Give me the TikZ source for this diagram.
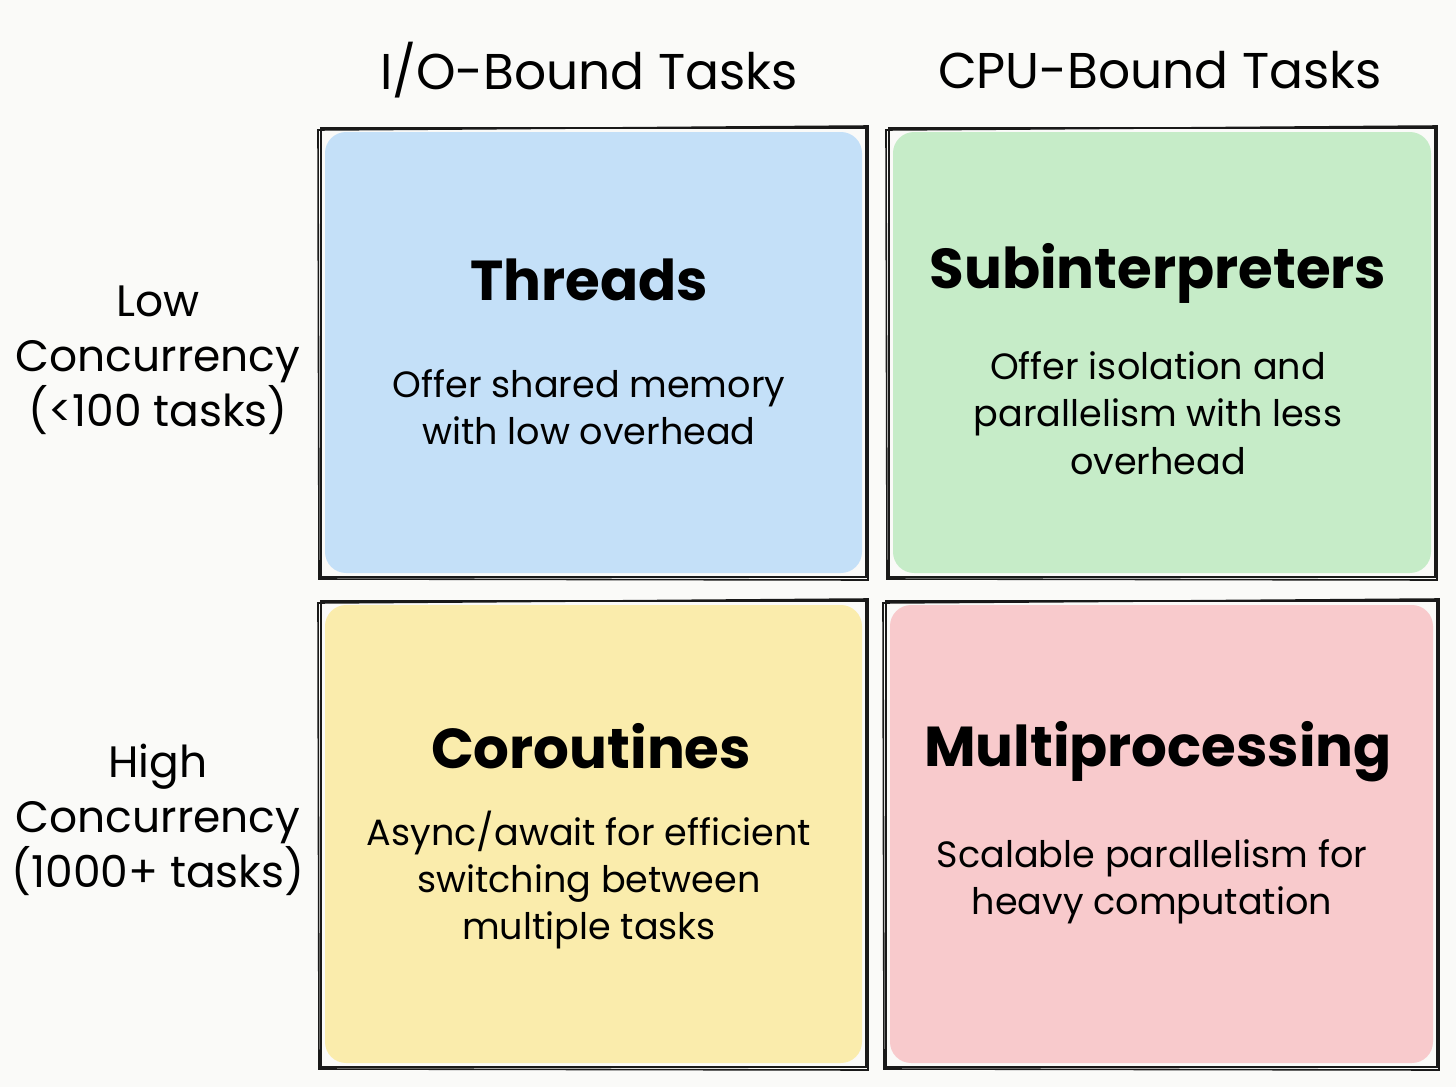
\documentclass[tikz,border=0pt]{standalone}
\usepackage{fontspec}
\setmainfont{Poppins}
\usetikzlibrary{positioning}

\definecolor{paper}{RGB}{250,250,248}
\definecolor{threadblue}{RGB}{196,224,248}
\definecolor{subgreen}{RGB}{198,236,200}
\definecolor{coroyellow}{RGB}{250,236,172}
\definecolor{multipink}{RGB}{248,202,204}

\tikzset{
  header/.style={font=\fontsize{14.3}{17}\selectfont},
  rowlabel/.style={align=center, font=\fontsize{12.5}{15.6}\selectfont},
  title/.style={font=\fontsize{16}{19}\selectfont\bfseries},
  desc/.style={align=center, font=\fontsize{10.4}{13.5}\selectfont},
  sketch/.style={line width=0.75pt, black!90},
}

\begin{document}
\begin{tikzpicture}[x=0.01cm, y=-0.01cm]
% page
\fill[paper] (0,0) rectangle (1456,1087);
\useasboundingbox (0,0) rectangle (1456,1087);

% coordinates
\coordinate (TNW) at (321,128);
\coordinate (TSE) at (866,577);
\coordinate (SNW) at (889,128);
\coordinate (SSE) at (1435,577);
\coordinate (CNW) at (321,601);
\coordinate (CSE) at (866,1067);
\coordinate (MNW) at (886,601);
\coordinate (MSE) at (1437,1067);

% fills
\fill[threadblue, rounded corners=6] ([shift={(4,4)}]TNW) rectangle ([shift={(-4,-4)}]TSE);
\fill[subgreen, rounded corners=6] ([shift={(4,4)}]SNW) rectangle ([shift={(-4,-4)}]SSE);
\fill[coroyellow, rounded corners=6] ([shift={(4,4)}]CNW) rectangle ([shift={(-4,-4)}]CSE);
\fill[multipink, rounded corners=6] ([shift={(4,4)}]MNW) rectangle ([shift={(-4,-4)}]MSE);

% sketchy borders
\foreach \nw/\se in {TNW/TSE, SNW/SSE, CNW/CSE, MNW/MSE} {
  \draw[sketch] (\nw) rectangle (\se);
  \draw[sketch, line width=0.45pt] ([shift={(-3,2)}]\nw) -- ([shift={(2,-2)}]\nw -| \se)
    -- ([shift={(2,3)}]\se) -- ([shift={(-2,2)}]\nw |- \se) -- cycle;
}

% column headers
\node[header] (io) at (589,70) {I/O-Bound Tasks};
\node[header] (cpu) at (1160,70) {CPU-Bound Tasks};

% row labels
\node[rowlabel] (low) at (158,360) {Low\\Concurrency\\(<100 tasks)};
\node[rowlabel] (high) at (158,820) {High\\Concurrency\\(1000+ tasks)};

% quadrants
\node[title] (threads) at (589,280) {Threads};
\node[desc] (threadsd) at (589,407) {Offer shared memory\\with low overhead};

\node[title] (subint) at (1158,273) {Subinterpreters};
\node[desc] (subintd) at (1158,413) {Offer isolation and\\parallelism with less\\overhead};

\node[title] (corout) at (591,746) {Coroutines};
\node[desc] (coroutd) at (589,880) {Async/await for efficient\\switching between\\multiple tasks};

\node[title] (multi) at (1158,752) {Multiprocessing};
\node[desc] (multid) at (1152,882) {Scalable parallelism for\\heavy computation};

\end{tikzpicture}
\end{document}
